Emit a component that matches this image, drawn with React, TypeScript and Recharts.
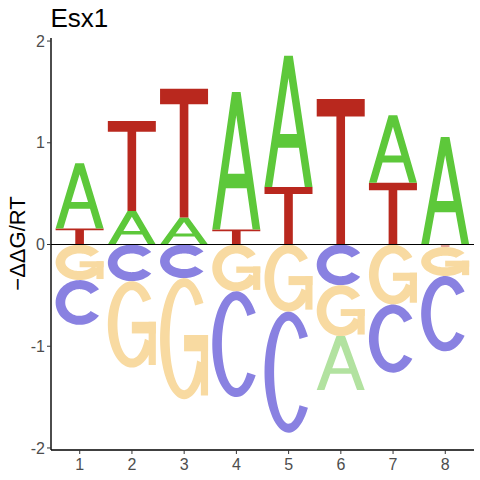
import React from 'react';
import { BarChart, Bar, XAxis, YAxis, ReferenceLine } from 'recharts';

const positions = [1, 2, 3, 4, 5, 6, 7, 8];
const xTicks = [1, 2, 3, 4, 5, 6, 7, 8];
const yTicks = [-2, -1, 0, 1, 2];

// positive stack (bottom layer first)
const p1Letters = ['T', 'A', 'A', 'T', 'T', 'T', 'T', 'A'];
const p1Values = [0.158, 0.33, 0.266, 0.148, 0.565, 1.43, 0.607, 1.057];
const p2Letters = ['A', 'T', 'T', 'A', 'A', '', 'A', ''];
const p2Values = [0.642, 0.885, 1.264, 1.352, 1.29, 0, 0.663, 0];

// negative stack (closest to zero first)
const n1Letters = ['G', 'C', 'C', 'G', 'G', 'C', 'G', 'T'];
const n1Values = [-0.35, -0.36, -0.33, -0.46, -0.66, -0.4, -0.59, -0.025];
const n2Letters = ['C', 'G', 'G', 'C', 'C', 'G', 'C', 'G'];
const n2Values = [-0.44, -0.85, -1.19, -1.04, -1.19, -0.5, -0.67, -0.285];
const n3Letters = ['', '', '', '', '', 'A', '', 'C'];
const n3Values = [0, 0, 0, 0, 0, -0.53, 0, -0.74];

const data = positions.map((pos, i) => ({
  pos,
  p1: p1Values[i], p1L: p1Letters[i],
  p2: p2Values[i], p2L: p2Letters[i],
  n1: n1Values[i], n1L: n1Letters[i],
  n2: n2Values[i], n2L: n2Letters[i],
  n3: n3Values[i], n3L: n3Letters[i],
}));

const posColors: Record<string, string> = { A: '#5DC83A', T: '#B9281E', C: '#4B3FD0', G: '#F2B13A' };
const negColors: Record<string, string> = { A: '#B2E2A0', T: '#E3A49C', C: '#8981E1', G: '#F8DAA1' };

function arc(cx: number, cy: number, rx: number, ry: number, a0: number, a1: number, n: number) {
  const pts: string[] = [];
  for (let k = 0; k <= n; k++) {
    const a = ((a0 + (a1 - a0) * (k / n)) * Math.PI) / 180;
    pts.push(`${(cx + rx * Math.cos(a)).toFixed(2)},${(cy - ry * Math.sin(a)).toFixed(2)}`);
  }
  return pts;
}

function band(w: number, h: number, oa0: number, oa1: number, ia0: number, ia1: number) {
  const t = Math.min(9, 0.3 * h);
  const outer = arc(w / 2, h / 2, w / 2, h / 2, oa0, oa1, 60);
  const inner = arc(w / 2, h / 2, w * 0.3, h / 2 - t, ia0, ia1, 60);
  return `M${outer.join(' L')} L${inner.join(' L')} Z`;
}

function rect(x0: number, y0: number, x1: number, y1: number) {
  return `M${x0},${y0} L${x1},${y0} L${x1},${y1} L${x0},${y1} Z`;
}

function glyph(letter: string, w: number, h: number): string[] {
  const X = (v: number) => (v * w) / 100;
  const Y = (v: number) => (v * h) / 100;
  if (letter === 'A') {
    return [
      `M${X(0)},${Y(100)} L${X(41)},${Y(0)} L${X(59)},${Y(0)} L${X(100)},${Y(100)} L${X(84)},${Y(100)} L${X(71.7)},${Y(70)} L${X(28.3)},${Y(70)} L${X(16)},${Y(100)} Z ` +
        `M${X(32.4)},${Y(59.5)} L${X(67.6)},${Y(59.5)} L${X(50)},${Y(17)} Z`,
    ];
  }
  if (letter === 'T') {
    return [
      `M0,0 L${X(100)},0 L${X(100)},${Y(12)} L${X(59)},${Y(12)} L${X(59)},${Y(100)} L${X(41)},${Y(100)} L${X(41)},${Y(12)} L0,${Y(12)} Z`,
    ];
  }
  if (letter === 'C') {
    return [band(w, h, 36, 324, 320, 40)];
  }
  // G
  const barTop = Y(47);
  const barBot = barTop + Math.max(Y(13.5), 6);
  return [
    band(w, h, 36, 335, 335, 40),
    rect(X(85), barTop, X(100), Y(97)),
    rect(X(50), barTop, X(100), barBot),
  ];
}

function makeShape(layer: string, negative: boolean) {
  return (props: any) => {
    const { x, y, width, height, payload } = props;
    const letter = payload ? payload[layer + 'L'] : '';
    const v = payload ? payload[layer] : 0;
    if (!letter || !v) return <g />;
    const x0 = width < 0 ? x + width : x;
    const y0 = height < 0 ? y + height : y;
    const w = Math.abs(width);
    const h = Math.abs(height);
    const color = (negative ? negColors : posColors)[letter];
    return (
      <g transform={`translate(${x0},${y0})`}>
        {glyph(letter, w, h).map((d, k) => (
          <path key={k} d={d} fill={color} fillRule="evenodd" stroke="none" />
        ))}
      </g>
    );
  };
}

const font = "'Liberation Sans', Arial, sans-serif";

export default function App() {
  return (
    <div style={{ position: 'absolute', left: 0, top: 0, width: 480, height: 480, background: '#fff' }}>
      <BarChart
        width={480}
        height={480}
        data={data}
        stackOffset="sign"
        barSize={48}
        margin={{ top: 38, right: 6, left: 0, bottom: 0 }}
      >
        <XAxis
          dataKey="pos"
          type="number"
          domain={[0.45, 8.55]}
          ticks={xTicks}
          allowDataOverflow
          height={30}
          axisLine={{ stroke: '#000', strokeWidth: 1.4 }}
          tickLine={{ stroke: '#333' }}
          tickSize={4}
          tickMargin={5}
          tick={{ fill: '#4D4D4D', fontSize: 16, fontFamily: font }}
          interval={0}
        />
        <YAxis
          type="number"
          domain={[-2.02, 2.03]}
          ticks={yTicks}
          allowDataOverflow
          width={51}
          axisLine={{ stroke: '#000', strokeWidth: 1.4 }}
          tickLine={{ stroke: '#333' }}
          tickSize={4}
          tickMargin={2}
          tick={{ fill: '#4D4D4D', fontSize: 16, fontFamily: font }}
          interval={0}
        />
        <Bar dataKey="p1" stackId="s" isAnimationActive={false} shape={makeShape('p1', false)} />
        <Bar dataKey="p2" stackId="s" isAnimationActive={false} shape={makeShape('p2', false)} />
        <Bar dataKey="n1" stackId="s" isAnimationActive={false} shape={makeShape('n1', true)} />
        <Bar dataKey="n2" stackId="s" isAnimationActive={false} shape={makeShape('n2', true)} />
        <Bar dataKey="n3" stackId="s" isAnimationActive={false} shape={makeShape('n3', true)} />
        <ReferenceLine y={0} stroke="#000" strokeWidth={1} />
      </BarChart>
      <svg width={480} height={480} style={{ position: 'absolute', left: 0, top: 0, pointerEvents: 'none' }}>
        <text x={50.5} y={26.7} fontSize={26} fontFamily={font} fill="#000">Esx1</text>
        <text
          x={25}
          y={243.5}
          fontSize={22}
          fontFamily={font}
          fill="#000"
          textAnchor="middle"
          transform="rotate(-90, 25, 243.5)"
        >
          −ΔΔG/RT
        </text>
      </svg>
    </div>
  );
}
